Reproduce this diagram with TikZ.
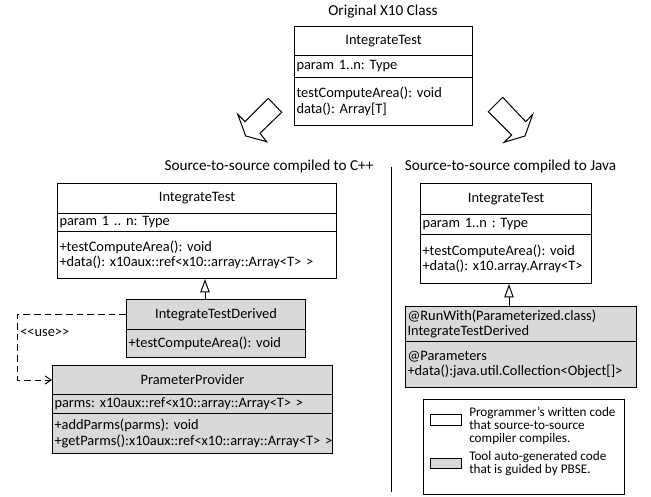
\documentclass[tikz,border=0pt]{standalone}
\usepackage{fontspec}
\setmainfont{Carlito}
\usetikzlibrary{arrows.meta,calc}
\definecolor{autogray}{RGB}{217,217,217}
\newcommand\mainfs{\fontsize{11.4pt}{12pt}\selectfont}
\newcommand\boxfs{\fontsize{10.8pt}{11.8pt}\selectfont}
\newcommand\legfs{\fontsize{9.9pt}{9.9pt}\selectfont}
\begin{document}
\frenchspacing
\begin{tikzpicture}[x=0.75pt,y=-0.75pt,
  cell/.style={draw, line width=0.75pt, anchor=north west, inner xsep=1.5pt, inner ysep=0pt, font=\boxfs},
  gcell/.style={cell, fill=autogray},
  lft/.style={text width=#1, align=left},
  title/.style={font=\mainfs, inner sep=0pt},
  inh/.style={line width=0.75pt, -{Triangle[open,length=10pt,width=7pt]}},
  usedash/.style={line width=0.75pt, dash pattern=on 5pt off 3pt, -{Straight Barb[length=4.5pt,width=6pt]}},
  bigarrow/.style={line width=0.75pt, line join=miter},
  legtext/.style={font=\legfs, anchor=north west, inner sep=0pt, align=left}
]
\useasboundingbox (0,0) rectangle (651,497);

% titles
\node[title] (torig) at (383,12) {Original X10 Class};
\node[title] (tcpp) at (269,166) {Source-to-source compiled to C++};
\node[title] (tjava) at (510.5,166) {Source-to-source compiled to Java};

% original class
\node[cell, minimum width=133.5pt, minimum height=21.75pt] (oname) at (294,26) {IntegrateTest};
\node[cell, minimum width=133.5pt, minimum height=16.5pt, lft=130.5pt] (oattr) at (294,55) {param 1..n: Type};
\node[cell, minimum width=133.5pt, minimum height=36pt, lft=130.5pt] (ometh) at (294,77) {testComputeArea(): void\\data(): Array[T]};

% hollow arrows
\draw[bigarrow] (268.3,98.3) -- (281.7,112.3) -- (260,133.3) -- (266.7,141.7) -- (245.7,136) -- (237.7,114.3) -- (245,121.7) -- cycle;
\draw[bigarrow] (502.7,97.3) -- (488.3,111.7) -- (511.7,135) -- (504,142.3) -- (525,136) -- (532.7,114.3) -- (525.7,121.7) -- cycle;

% separator
\draw[line width=0.75pt] (391,167) -- (391,492);

% C++ IntegrateTest
\node[cell, minimum width=209.25pt, minimum height=22.5pt] (cname) at (57,183) {IntegrateTest};
\node[cell, minimum width=209.25pt, minimum height=13.5pt, lft=206.25pt] (cattr) at (57,213) {param 1 .. n: Type};
\node[cell, minimum width=209.25pt, minimum height=35.25pt, lft=206.25pt] (cmeth) at (57,231) {+testComputeArea(): void\\\mbox{+data(): x10aux::ref<x10::array::Array<T> >}};

% C++ derived
\node[gcell, minimum width=134.25pt, minimum height=22.5pt] (dname) at (126,299) {IntegrateTestDerived};
\node[gcell, minimum width=134.25pt, minimum height=21pt, lft=131.25pt] (dmeth) at (126,329) {+testComputeArea(): void};

% PrameterProvider
\node[gcell, minimum width=210pt, minimum height=21.75pt] (pname) at (52,365) {PrameterProvider};
\node[gcell, minimum width=210pt, minimum height=14.25pt, lft=207pt] (pattr) at (52,394) {parms: x10aux::ref<x10::array::Array<T> >};
\node[gcell, minimum width=210pt, minimum height=30pt, lft=207pt] (pmeth) at (52,413) {+addParms(parms): void\\\mbox{+getParms():x10aux::ref<x10::array::Array<T> >}};

% Java IntegrateTest
\node[cell, minimum width=128.25pt, minimum height=23.25pt] (jname) at (420,183) {IntegrateTest};
\node[cell, minimum width=128.25pt, minimum height=15pt, lft=125.25pt] (jattr) at (420,214) {param 1..n : Type};
\node[cell, minimum width=128.25pt, minimum height=36.75pt, lft=125.25pt] (jmeth) at (420,234) {+testComputeArea(): void\\\mbox{+data(): x10.array.Array<T>}};

% Java derived
\node[gcell, minimum width=173.25pt, minimum height=26.25pt, lft=170.25pt] (kname) at (405,306) {@RunWith(Parameterized.class)\\IntegrateTestDerived};
\node[gcell, minimum width=173.25pt, minimum height=34.5pt, lft=170.25pt] (kmeth) at (405,341) {@Parameters\\\mbox{+data():java.util.Collection<Object[]>}};

% inheritance
\coordinate (dtop) at ($(dname.north west)+(79,0)$);
\draw[inh] (dtop) -- (dtop |- cmeth.south);
\coordinate (ktop) at ($(kname.north west)+(104,0)$);
\draw[inh] (ktop) -- (ktop |- jmeth.south);

% use dependency
\draw[usedash] (dname.west) -| ([xshift=-26.25pt]pname.west) -- (pname.west);
\node[font=\boxfs, anchor=west, inner sep=0pt] (uselbl) at (20,333) {<\kern0pt<use>\kern0pt>};

% legend
\draw[line width=0.75pt] (423,399) rectangle (624,494);
\node[draw, line width=0.75pt, anchor=north west, minimum width=23.25pt, minimum height=8.25pt, inner sep=0pt] (lwhite) at (430,414) {};
\node[draw, line width=0.75pt, fill=autogray, anchor=north west, minimum width=23.25pt, minimum height=7.5pt, inner sep=0pt] (lgray) at (430,458) {};
\node[legtext] (lt1) at (469,407) {Programmer’s written code\\that source-to-source\\compiler compiles.};
\node[legtext] (lt2) at (469,451) {Tool auto-generated code\\that is guided by PBSE.};
\end{tikzpicture}
\end{document}
